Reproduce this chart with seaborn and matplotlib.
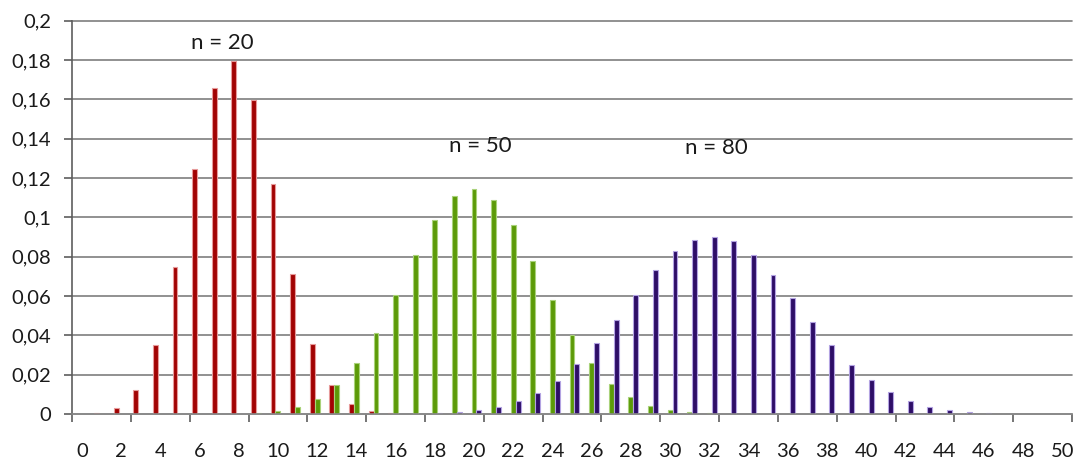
import numpy as np
import pandas as pd
import matplotlib
matplotlib.use("Agg")
import matplotlib.pyplot as plt
import seaborn as sns

# Binomial probabilities P(X = k), k = 0..50, for three sample sizes
k_values = list(range(51))

p_n20 = [0.00004, 0.0005, 0.0031, 0.0123, 0.0350, 0.0746, 0.1244, 0.1659, 0.1797, 0.1597,
         0.1171, 0.0710, 0.0355, 0.0146, 0.0049, 0.0013, 0.0003, 0.00004] + [0.0] * 33

p_n50 = [0.0] * 9 + [0.0004, 0.0014, 0.0035, 0.0076, 0.0147, 0.0258, 0.0413, 0.0604, 0.0808,
                     0.0987, 0.1109, 0.1143, 0.1090, 0.0959, 0.0777, 0.0582, 0.0402, 0.0257,
                     0.0152, 0.0084, 0.0040, 0.0018, 0.0008, 0.0003, 0.0001] + [0.0] * 17

p_n80 = [0.0] * 18 + [0.0003, 0.0008, 0.0019, 0.0036, 0.0064, 0.0107, 0.0167, 0.0253, 0.0360,
                      0.0478, 0.0607, 0.0730, 0.0830, 0.0887, 0.0902, 0.0880, 0.0808, 0.0706,
                      0.0590, 0.0468, 0.0351, 0.0251, 0.0171, 0.0110, 0.0066, 0.0038, 0.0022,
                      0.0011, 0.0005, 0.0002] + [0.0] * 3

series_names = ["n = 20", "n = 50", "n = 80"]
series_values = [p_n20, p_n50, p_n80]

x_tick_labels = [str(v) for v in range(0, 51, 2)]
y_ticks = [0, 0.02, 0.04, 0.06, 0.08, 0.10, 0.12, 0.14, 0.16, 0.18, 0.20]
y_tick_labels = ["0", "0,02", "0,04", "0,06", "0,08", "0,1", "0,12", "0,14", "0,16", "0,18", "0,2"]

# Label anchors (category position, probability) for each distribution
label_pos = [(7.15, 0.1885), (20.3, 0.1365), (32.35, 0.1355)]

face_colors = ["#A20303", "#5C9A08", "#2E0E68"]
edge_colors = ["#E69A9A", "#A9D27A", "#B3A3E2"]

df = pd.concat(
    [pd.DataFrame({"k": k_values, "p": vals, "n": name})
     for name, vals in zip(series_names, series_values)],
    ignore_index=True,
)

sns.set_theme(style="white")
plt.rcParams["font.family"] = ["Lato", "DejaVu Sans"]

fig = plt.figure(figsize=(10.77, 4.59), dpi=100)
ax = fig.add_axes([0.0669, 0.098, 0.9285, 0.857])

sns.barplot(data=df, x="k", y="p", hue="n", hue_order=series_names,
            palette=face_colors, saturation=1, width=0.75, dodge=True,
            legend=False, ax=ax)

for container, ec in zip(ax.containers, edge_colors):
    for bar in container:
        bar.set_edgecolor(ec)
        bar.set_linewidth(0.8)

ax.set_xlim(-0.5, 50.5)
ax.set_ylim(0, 0.2)

# y axis: gridlines and comma-decimal labels
ax.set_yticks(y_ticks)
ax.set_yticklabels(y_tick_labels, fontsize=14.5, color="#1a1a1a")
ax.yaxis.grid(True, color="#7e7e7e", linewidth=1.2)
for gl in ax.yaxis.get_gridlines():
    gl.set_clip_on(False)
ax.set_axisbelow(True)
ax.tick_params(axis="y", which="major", direction="out", length=6, width=1.2,
               color="#5e5e5e", pad=9, left=True)

# x axis: labels on every second category, tick marks every third boundary
ax.set_xticks(range(0, 51, 2))
ax.set_xticklabels(x_tick_labels, fontsize=14.5, color="#1a1a1a")
ax.tick_params(axis="x", which="major", length=0, pad=21)
ax.set_xticks(np.arange(-0.5, 51, 3), minor=True)
ax.tick_params(axis="x", which="minor", direction="out", length=6, width=1.2,
               color="#5e5e5e", bottom=True)

ax.set_xlabel("")
ax.set_ylabel("")

for side in ["top", "right"]:
    ax.spines[side].set_visible(False)
ax.spines["left"].set_color("#5e5e5e")
ax.spines["left"].set_linewidth(1.2)
ax.spines["bottom"].set_color("#8a8a8a")
ax.spines["bottom"].set_linewidth(1.2)

for name, (xp, yp) in zip(series_names, label_pos):
    ax.text(xp, yp, name, ha="center", va="center", fontsize=16, color="#1a1a1a")

fig.savefig("out.png", dpi=100)
